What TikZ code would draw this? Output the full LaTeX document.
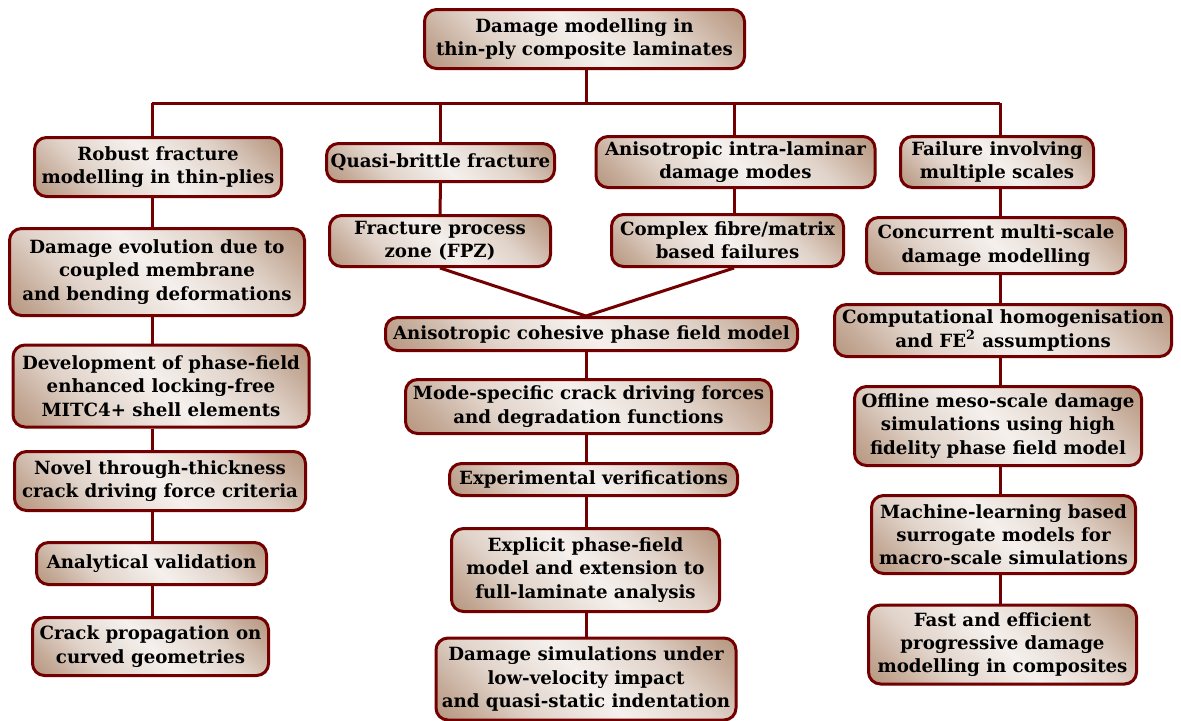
\documentclass[tikz,border=0pt]{standalone}
\usepackage{fontspec}
\setmainfont{DejaVu Serif}
\usetikzlibrary{shadows}
\definecolor{brd}{RGB}{115,0,0}
\definecolor{brn}{RGB}{170,132,105}
\pgfdeclareverticalshading{boxshade}{100bp}{color(0bp)=(brn); color(12bp)=(brn!92!white);
  color(22bp)=(brn!68!white); color(33bp)=(brn!36!white); color(50bp)=(brn!12!white);
  color(67bp)=(brn!36!white); color(78bp)=(brn!68!white); color(88bp)=(brn!92!white); color(100bp)=(brn)}
\begin{document}
\begin{tikzpicture}[x=0.5pt,y=-0.5pt,
  box/.style={draw=brd, line width=1.5pt, rounded corners=6pt, align=center,
    font=\fontsize{9.1}{11.6}\selectfont\bfseries, inner sep=0pt,
    shade, shading=boxshade, shading angle=-45,
    drop shadow={shadow xshift=0.7pt, shadow yshift=-0.7pt, opacity=0.2}},
  wh/.style 2 args={minimum width=#1*0.5pt, minimum height=#2*0.5pt},
  conn/.style={draw=brd, line width=1.5pt}]
\useasboundingbox (0,0) rectangle (1181,720);
% top
\node[box, wh={320}{59}] (n0) at (584.5,39) {Damage modelling in\\thin-ply composite laminates};
% column 1
\node[box, wh={247}{59}] (a1) at (158,167) {Robust fracture\\modelling in thin-plies};
\node[box, wh={295}{87}] (a2) at (157,272) {Damage evolution due to\\coupled membrane\\and bending deformations};
\node[box, wh={296}{82}] (a3) at (161,386) {Development of phase-field\\enhanced locking-free\\MITC4+ shell elements};
\node[box, wh={291}{59}] (a4) at (160,481) {Novel through-thickness\\crack driving force criteria};
\node[box, wh={230}{42}] (a5) at (151.5,563.5) {Analytical validation};
\node[box, wh={236}{58}] (a6) at (150.5,646.5) {Crack propagation on\\curved geometries};
% column 2
\node[box, wh={228}{38}] (b1) at (440.5,162.5) {Quasi-brittle fracture};
\node[box, wh={221}{51}] (b2) at (440,241) {Fracture process\\zone (FPZ)};
% column 3
\node[box, wh={279}{51}] (c1) at (735.5,162) {Anisotropic intra-laminar\\damage modes};
\node[box, wh={232}{52}] (c2) at (727.5,240.5) {Complex fibre/matrix\\based failures};
% center column
\node[box, wh={412}{33}] (m1) at (591.5,334) {Anisotropic cohesive phase field model};
\node[box, wh={366}{54}] (m2) at (588.5,406.5) {Mode-specific crack driving forces\\and degradation functions};
\node[box, wh={288}{32}] (m3) at (593.5,479.5) {Experimental verifications};
\node[box, wh={268}{83}] (m4) at (585.5,570) {Explicit phase-field\\model and extension to\\full-laminate analysis};
\node[box, wh={300}{82}] (m5) at (586,679) {Damage simulations under\\low-velocity impact\\and quasi-static indentation};
% column 4
\node[box, wh={193}{51}] (d1) at (997,162) {Failure involving\\multiple scales};
\node[box, wh={259}{56}] (d2) at (996,245.5) {Concurrent multi-scale\\damage modelling};
\node[box, wh={337}{52}] (d3) at (1003,330.5) {Computational homogenisation\\and FE\textsuperscript{2} assumptions};
\node[box, wh={287}{79}] (d4) at (998,426) {Offline meso-scale damage\\simulations using high\\fidelity phase field model};
\node[box, wh={264}{78}] (d5) at (1003.5,534.5) {Machine-learning based\\surrogate models for\\macro-scale simulations};
\node[box, wh={268}{79}] (d6) at (1002.5,644.5) {Fast and efficient\\progressive damage\\modelling in composites};
% connector coordinates
\coordinate (busL) at (152,103);
\coordinate (busR) at (1000,103);
\coordinate (cm) at (586,316);
\coordinate (c3x) at (734,0);
\draw[conn] (n0.south -| cm) -- (cm |- busL);
\draw[conn] (busL) -- (busR);
\draw[conn] (busL) -- (busL |- a1.north);
\draw[conn] (b1.north |- busL) -- (b1.north);
\draw[conn] (c3x |- busL) -- (c3x |- c1.north);
\draw[conn] (busR) -- (busR |- d1.north);
% column 1
\foreach \u/\v in {a1/a2,a2/a3,a3/a4,a4/a5,a5/a6}
  \draw[conn] (busL |- \u.south) -- (busL |- \v.north);
% column 2/3
\draw[conn] (b1.south) -- (b2.north);
\draw[conn] (c3x |- c1.south) -- (c3x |- c2.north);
\draw[conn] (b2.south) -- (cm);
\draw[conn] (c3x |- c2.south) -- (cm);
% center
\foreach \u/\v in {m1/m2,m2/m3,m3/m4,m4/m5}
  \draw[conn] (cm |- \u.south) -- (cm |- \v.north);
% column 4
\foreach \u/\v in {d1/d2,d2/d3,d3/d4,d4/d5,d5/d6}
  \draw[conn] (busR |- \u.south) -- (busR |- \v.north);
\end{tikzpicture}
\end{document}
